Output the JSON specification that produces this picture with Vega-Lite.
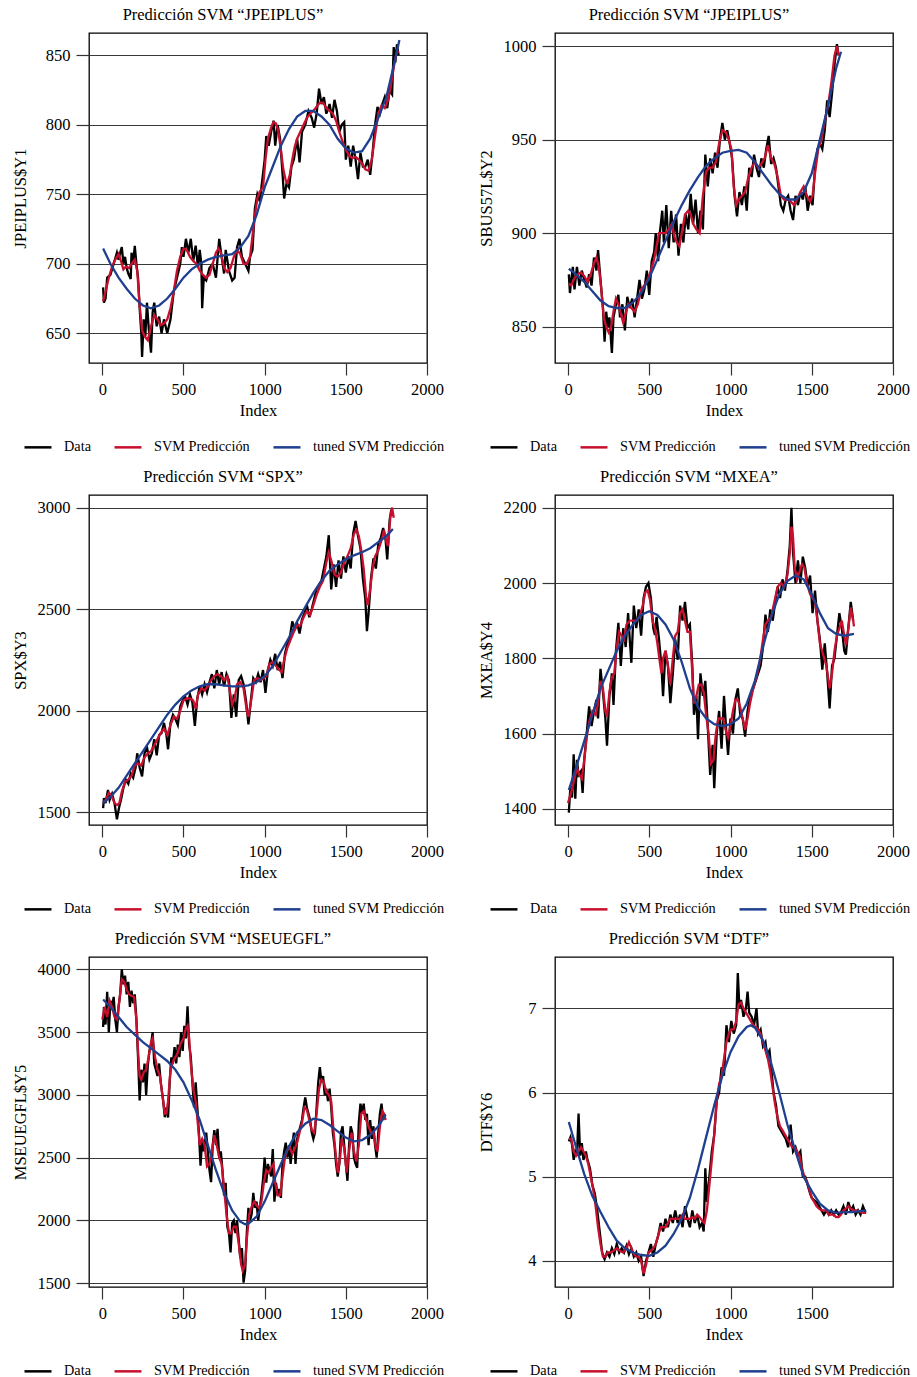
{
"$schema":"https://vega.github.io/schema/vega-lite/v6.json",
"background":"white",
"padding":{"left":11,"top":5,"right":5,"bottom":5},
"bounds":"flush",
"columns":2,
"spacing":{"row":132,"column":128},
"data":{"values":[
{"p":1,"s":"D","i":5,"v":683},{"p":1,"s":"D","i":10,"v":672},{"p":1,"s":"D","i":20,"v":675},{"p":1,"s":"D","i":30,"v":690},{"p":1,"s":"D","i":50,"v":692},{"p":1,"s":"D","i":70,"v":700},{"p":1,"s":"D","i":90,"v":708},{"p":1,"s":"D","i":100,"v":703},{"p":1,"s":"D","i":110,"v":708},{"p":1,"s":"D","i":120,"v":712},{"p":1,"s":"D","i":130,"v":700},{"p":1,"s":"D","i":140,"v":705},{"p":1,"s":"D","i":150,"v":697},{"p":1,"s":"D","i":160,"v":693},{"p":1,"s":"D","i":175,"v":689},{"p":1,"s":"D","i":180,"v":708},{"p":1,"s":"D","i":190,"v":700},{"p":1,"s":"D","i":200,"v":713},{"p":1,"s":"D","i":210,"v":700},{"p":1,"s":"D","i":220,"v":690},{"p":1,"s":"D","i":230,"v":668},{"p":1,"s":"D","i":240,"v":650},{"p":1,"s":"D","i":245,"v":633},{"p":1,"s":"D","i":255,"v":660},{"p":1,"s":"D","i":265,"v":648},{"p":1,"s":"D","i":275,"v":672},{"p":1,"s":"D","i":285,"v":655},{"p":1,"s":"D","i":300,"v":636},{"p":1,"s":"D","i":310,"v":665},{"p":1,"s":"D","i":320,"v":672},{"p":1,"s":"D","i":335,"v":655},{"p":1,"s":"D","i":350,"v":662},{"p":1,"s":"D","i":365,"v":650},{"p":1,"s":"D","i":380,"v":660},{"p":1,"s":"D","i":400,"v":650},{"p":1,"s":"D","i":420,"v":660},{"p":1,"s":"D","i":440,"v":680},{"p":1,"s":"D","i":460,"v":690},{"p":1,"s":"D","i":480,"v":700},{"p":1,"s":"D","i":490,"v":712},{"p":1,"s":"D","i":500,"v":705},{"p":1,"s":"D","i":515,"v":718},{"p":1,"s":"D","i":530,"v":708},{"p":1,"s":"D","i":545,"v":718},{"p":1,"s":"D","i":560,"v":702},{"p":1,"s":"D","i":575,"v":713},{"p":1,"s":"D","i":590,"v":697},{"p":1,"s":"D","i":600,"v":710},{"p":1,"s":"D","i":610,"v":700},{"p":1,"s":"D","i":615,"v":668},{"p":1,"s":"D","i":625,"v":690},{"p":1,"s":"D","i":640,"v":688},{"p":1,"s":"D","i":660,"v":697},{"p":1,"s":"D","i":680,"v":700},{"p":1,"s":"D","i":700,"v":690},{"p":1,"s":"D","i":720,"v":718},{"p":1,"s":"D","i":735,"v":705},{"p":1,"s":"D","i":750,"v":693},{"p":1,"s":"D","i":760,"v":710},{"p":1,"s":"D","i":780,"v":695},{"p":1,"s":"D","i":800,"v":688},{"p":1,"s":"D","i":815,"v":690},{"p":1,"s":"D","i":830,"v":712},{"p":1,"s":"D","i":845,"v":718},{"p":1,"s":"D","i":860,"v":705},{"p":1,"s":"D","i":880,"v":700},{"p":1,"s":"D","i":900,"v":695},{"p":1,"s":"D","i":910,"v":705},{"p":1,"s":"D","i":925,"v":710},{"p":1,"s":"D","i":940,"v":740},{"p":1,"s":"D","i":955,"v":750},{"p":1,"s":"D","i":970,"v":745},{"p":1,"s":"D","i":985,"v":760},{"p":1,"s":"D","i":1000,"v":775},{"p":1,"s":"D","i":1010,"v":792},{"p":1,"s":"D","i":1025,"v":785},{"p":1,"s":"D","i":1040,"v":795},{"p":1,"s":"D","i":1055,"v":803},{"p":1,"s":"D","i":1065,"v":785},{"p":1,"s":"D","i":1080,"v":800},{"p":1,"s":"D","i":1095,"v":790},{"p":1,"s":"D","i":1110,"v":765},{"p":1,"s":"D","i":1120,"v":747},{"p":1,"s":"D","i":1135,"v":758},{"p":1,"s":"D","i":1150,"v":755},{"p":1,"s":"D","i":1165,"v":770},{"p":1,"s":"D","i":1180,"v":775},{"p":1,"s":"D","i":1200,"v":790},{"p":1,"s":"D","i":1215,"v":773},{"p":1,"s":"D","i":1230,"v":795},{"p":1,"s":"D","i":1250,"v":800},{"p":1,"s":"D","i":1270,"v":810},{"p":1,"s":"D","i":1290,"v":805},{"p":1,"s":"D","i":1305,"v":798},{"p":1,"s":"D","i":1320,"v":808},{"p":1,"s":"D","i":1335,"v":826},{"p":1,"s":"D","i":1350,"v":815},{"p":1,"s":"D","i":1365,"v":820},{"p":1,"s":"D","i":1380,"v":808},{"p":1,"s":"D","i":1400,"v":815},{"p":1,"s":"D","i":1415,"v":805},{"p":1,"s":"D","i":1430,"v":818},{"p":1,"s":"D","i":1445,"v":810},{"p":1,"s":"D","i":1460,"v":795},{"p":1,"s":"D","i":1475,"v":800},{"p":1,"s":"D","i":1490,"v":802},{"p":1,"s":"D","i":1500,"v":775},{"p":1,"s":"D","i":1515,"v":785},{"p":1,"s":"D","i":1530,"v":770},{"p":1,"s":"D","i":1545,"v":785},{"p":1,"s":"D","i":1560,"v":775},{"p":1,"s":"D","i":1575,"v":761},{"p":1,"s":"D","i":1590,"v":780},{"p":1,"s":"D","i":1605,"v":770},{"p":1,"s":"D","i":1620,"v":770},{"p":1,"s":"D","i":1635,"v":775},{"p":1,"s":"D","i":1650,"v":764},{"p":1,"s":"D","i":1665,"v":780},{"p":1,"s":"D","i":1680,"v":800},{"p":1,"s":"D","i":1695,"v":813},{"p":1,"s":"D","i":1710,"v":808},{"p":1,"s":"D","i":1725,"v":815},{"p":1,"s":"D","i":1740,"v":820},{"p":1,"s":"D","i":1755,"v":812},{"p":1,"s":"D","i":1770,"v":825},{"p":1,"s":"D","i":1785,"v":822},{"p":1,"s":"D","i":1795,"v":856},{"p":1,"s":"D","i":1805,"v":845},{"p":1,"s":"D","i":1815,"v":858},{"p":1,"s":"D","i":1825,"v":850},
{"p":1,"s":"S","i":5,"v":673},{"p":1,"s":"S","i":20,"v":680},{"p":1,"s":"S","i":40,"v":690},{"p":1,"s":"S","i":60,"v":698},{"p":1,"s":"S","i":80,"v":703},{"p":1,"s":"S","i":100,"v":707},{"p":1,"s":"S","i":115,"v":702},{"p":1,"s":"S","i":130,"v":696},{"p":1,"s":"S","i":145,"v":698},{"p":1,"s":"S","i":165,"v":697},{"p":1,"s":"S","i":180,"v":700},{"p":1,"s":"S","i":200,"v":703},{"p":1,"s":"S","i":215,"v":695},{"p":1,"s":"S","i":230,"v":670},{"p":1,"s":"S","i":245,"v":652},{"p":1,"s":"S","i":260,"v":648},{"p":1,"s":"S","i":280,"v":645},{"p":1,"s":"S","i":300,"v":655},{"p":1,"s":"S","i":320,"v":663},{"p":1,"s":"S","i":340,"v":660},{"p":1,"s":"S","i":360,"v":656},{"p":1,"s":"S","i":380,"v":657},{"p":1,"s":"S","i":400,"v":660},{"p":1,"s":"S","i":420,"v":668},{"p":1,"s":"S","i":440,"v":680},{"p":1,"s":"S","i":460,"v":695},{"p":1,"s":"S","i":480,"v":705},{"p":1,"s":"S","i":500,"v":711},{"p":1,"s":"S","i":520,"v":710},{"p":1,"s":"S","i":540,"v":705},{"p":1,"s":"S","i":560,"v":702},{"p":1,"s":"S","i":580,"v":700},{"p":1,"s":"S","i":600,"v":695},{"p":1,"s":"S","i":620,"v":692},{"p":1,"s":"S","i":640,"v":690},{"p":1,"s":"S","i":660,"v":692},{"p":1,"s":"S","i":680,"v":700},{"p":1,"s":"S","i":700,"v":708},{"p":1,"s":"S","i":715,"v":711},{"p":1,"s":"S","i":730,"v":708},{"p":1,"s":"S","i":750,"v":697},{"p":1,"s":"S","i":770,"v":694},{"p":1,"s":"S","i":790,"v":697},{"p":1,"s":"S","i":810,"v":705},{"p":1,"s":"S","i":830,"v":710},{"p":1,"s":"S","i":850,"v":707},{"p":1,"s":"S","i":870,"v":700},{"p":1,"s":"S","i":890,"v":700},{"p":1,"s":"S","i":910,"v":705},{"p":1,"s":"S","i":925,"v":720},{"p":1,"s":"S","i":940,"v":735},{"p":1,"s":"S","i":955,"v":747},{"p":1,"s":"S","i":970,"v":752},{"p":1,"s":"S","i":990,"v":755},{"p":1,"s":"S","i":1005,"v":775},{"p":1,"s":"S","i":1020,"v":790},{"p":1,"s":"S","i":1040,"v":798},{"p":1,"s":"S","i":1055,"v":802},{"p":1,"s":"S","i":1070,"v":801},{"p":1,"s":"S","i":1085,"v":795},{"p":1,"s":"S","i":1100,"v":782},{"p":1,"s":"S","i":1115,"v":768},{"p":1,"s":"S","i":1130,"v":760},{"p":1,"s":"S","i":1140,"v":758},{"p":1,"s":"S","i":1155,"v":764},{"p":1,"s":"S","i":1170,"v":775},{"p":1,"s":"S","i":1185,"v":784},{"p":1,"s":"S","i":1200,"v":790},{"p":1,"s":"S","i":1220,"v":795},{"p":1,"s":"S","i":1240,"v":800},{"p":1,"s":"S","i":1260,"v":805},{"p":1,"s":"S","i":1280,"v":808},{"p":1,"s":"S","i":1300,"v":810},{"p":1,"s":"S","i":1320,"v":813},{"p":1,"s":"S","i":1340,"v":816},{"p":1,"s":"S","i":1360,"v":816},{"p":1,"s":"S","i":1380,"v":812},{"p":1,"s":"S","i":1400,"v":810},{"p":1,"s":"S","i":1420,"v":808},{"p":1,"s":"S","i":1440,"v":803},{"p":1,"s":"S","i":1460,"v":795},{"p":1,"s":"S","i":1480,"v":788},{"p":1,"s":"S","i":1500,"v":782},{"p":1,"s":"S","i":1520,"v":778},{"p":1,"s":"S","i":1540,"v":776},{"p":1,"s":"S","i":1560,"v":777},{"p":1,"s":"S","i":1580,"v":775},{"p":1,"s":"S","i":1600,"v":772},{"p":1,"s":"S","i":1620,"v":768},{"p":1,"s":"S","i":1640,"v":767},{"p":1,"s":"S","i":1660,"v":775},{"p":1,"s":"S","i":1680,"v":792},{"p":1,"s":"S","i":1700,"v":808},{"p":1,"s":"S","i":1720,"v":814},{"p":1,"s":"S","i":1740,"v":812},{"p":1,"s":"S","i":1760,"v":818},{"p":1,"s":"S","i":1780,"v":830},{"p":1,"s":"S","i":1800,"v":845},{"p":1,"s":"S","i":1815,"v":853},{"p":1,"s":"S","i":1825,"v":852},
{"p":1,"s":"T","i":5,"v":711},{"p":1,"s":"T","i":50,"v":700},{"p":1,"s":"T","i":100,"v":690},{"p":1,"s":"T","i":150,"v":682},{"p":1,"s":"T","i":200,"v":675},{"p":1,"s":"T","i":250,"v":670},{"p":1,"s":"T","i":300,"v":668},{"p":1,"s":"T","i":350,"v":670},{"p":1,"s":"T","i":400,"v":675},{"p":1,"s":"T","i":450,"v":682},{"p":1,"s":"T","i":500,"v":690},{"p":1,"s":"T","i":550,"v":696},{"p":1,"s":"T","i":600,"v":700},{"p":1,"s":"T","i":650,"v":703},{"p":1,"s":"T","i":700,"v":705},{"p":1,"s":"T","i":750,"v":706},{"p":1,"s":"T","i":800,"v":707},{"p":1,"s":"T","i":850,"v":712},{"p":1,"s":"T","i":900,"v":720},{"p":1,"s":"T","i":950,"v":735},{"p":1,"s":"T","i":1000,"v":755},{"p":1,"s":"T","i":1050,"v":770},{"p":1,"s":"T","i":1100,"v":785},{"p":1,"s":"T","i":1150,"v":797},{"p":1,"s":"T","i":1200,"v":806},{"p":1,"s":"T","i":1250,"v":810},{"p":1,"s":"T","i":1300,"v":810},{"p":1,"s":"T","i":1350,"v":806},{"p":1,"s":"T","i":1400,"v":800},{"p":1,"s":"T","i":1450,"v":790},{"p":1,"s":"T","i":1500,"v":783},{"p":1,"s":"T","i":1550,"v":780},{"p":1,"s":"T","i":1600,"v":781},{"p":1,"s":"T","i":1650,"v":790},{"p":1,"s":"T","i":1700,"v":805},{"p":1,"s":"T","i":1750,"v":820},{"p":1,"s":"T","i":1800,"v":845},{"p":1,"s":"T","i":1830,"v":861},
{"p":2,"s":"D","i":5,"v":878},{"p":2,"s":"D","i":12,"v":868},{"p":2,"s":"D","i":20,"v":875},{"p":2,"s":"D","i":30,"v":882},{"p":2,"s":"D","i":40,"v":870},{"p":2,"s":"D","i":55,"v":882},{"p":2,"s":"D","i":70,"v":872},{"p":2,"s":"D","i":85,"v":880},{"p":2,"s":"D","i":100,"v":875},{"p":2,"s":"D","i":115,"v":871},{"p":2,"s":"D","i":130,"v":878},{"p":2,"s":"D","i":145,"v":872},{"p":2,"s":"D","i":160,"v":887},{"p":2,"s":"D","i":175,"v":880},{"p":2,"s":"D","i":185,"v":891},{"p":2,"s":"D","i":200,"v":875},{"p":2,"s":"D","i":215,"v":860},{"p":2,"s":"D","i":225,"v":842},{"p":2,"s":"D","i":235,"v":858},{"p":2,"s":"D","i":245,"v":850},{"p":2,"s":"D","i":255,"v":855},{"p":2,"s":"D","i":270,"v":836},{"p":2,"s":"D","i":280,"v":855},{"p":2,"s":"D","i":295,"v":862},{"p":2,"s":"D","i":310,"v":867},{"p":2,"s":"D","i":320,"v":855},{"p":2,"s":"D","i":335,"v":862},{"p":2,"s":"D","i":350,"v":848},{"p":2,"s":"D","i":365,"v":866},{"p":2,"s":"D","i":380,"v":860},{"p":2,"s":"D","i":395,"v":865},{"p":2,"s":"D","i":410,"v":855},{"p":2,"s":"D","i":425,"v":865},{"p":2,"s":"D","i":440,"v":875},{"p":2,"s":"D","i":455,"v":865},{"p":2,"s":"D","i":470,"v":870},{"p":2,"s":"D","i":485,"v":880},{"p":2,"s":"D","i":500,"v":867},{"p":2,"s":"D","i":515,"v":885},{"p":2,"s":"D","i":530,"v":890},{"p":2,"s":"D","i":540,"v":900},{"p":2,"s":"D","i":555,"v":885},{"p":2,"s":"D","i":565,"v":900},{"p":2,"s":"D","i":580,"v":912},{"p":2,"s":"D","i":590,"v":895},{"p":2,"s":"D","i":605,"v":915},{"p":2,"s":"D","i":620,"v":892},{"p":2,"s":"D","i":635,"v":912},{"p":2,"s":"D","i":650,"v":895},{"p":2,"s":"D","i":665,"v":910},{"p":2,"s":"D","i":680,"v":888},{"p":2,"s":"D","i":695,"v":905},{"p":2,"s":"D","i":710,"v":895},{"p":2,"s":"D","i":725,"v":910},{"p":2,"s":"D","i":740,"v":902},{"p":2,"s":"D","i":755,"v":921},{"p":2,"s":"D","i":770,"v":905},{"p":2,"s":"D","i":785,"v":918},{"p":2,"s":"D","i":800,"v":900},{"p":2,"s":"D","i":815,"v":912},{"p":2,"s":"D","i":830,"v":902},{"p":2,"s":"D","i":845,"v":942},{"p":2,"s":"D","i":860,"v":925},{"p":2,"s":"D","i":875,"v":940},{"p":2,"s":"D","i":890,"v":932},{"p":2,"s":"D","i":905,"v":943},{"p":2,"s":"D","i":920,"v":935},{"p":2,"s":"D","i":935,"v":950},{"p":2,"s":"D","i":950,"v":959},{"p":2,"s":"D","i":965,"v":950},{"p":2,"s":"D","i":980,"v":955},{"p":2,"s":"D","i":995,"v":948},{"p":2,"s":"D","i":1010,"v":940},{"p":2,"s":"D","i":1025,"v":920},{"p":2,"s":"D","i":1040,"v":909},{"p":2,"s":"D","i":1055,"v":922},{"p":2,"s":"D","i":1070,"v":915},{"p":2,"s":"D","i":1085,"v":925},{"p":2,"s":"D","i":1100,"v":912},{"p":2,"s":"D","i":1115,"v":935},{"p":2,"s":"D","i":1130,"v":930},{"p":2,"s":"D","i":1145,"v":942},{"p":2,"s":"D","i":1160,"v":935},{"p":2,"s":"D","i":1175,"v":930},{"p":2,"s":"D","i":1190,"v":940},{"p":2,"s":"D","i":1205,"v":935},{"p":2,"s":"D","i":1220,"v":945},{"p":2,"s":"D","i":1235,"v":952},{"p":2,"s":"D","i":1250,"v":937},{"p":2,"s":"D","i":1265,"v":940},{"p":2,"s":"D","i":1280,"v":935},{"p":2,"s":"D","i":1295,"v":925},{"p":2,"s":"D","i":1310,"v":915},{"p":2,"s":"D","i":1325,"v":912},{"p":2,"s":"D","i":1340,"v":918},{"p":2,"s":"D","i":1355,"v":920},{"p":2,"s":"D","i":1370,"v":912},{"p":2,"s":"D","i":1385,"v":907},{"p":2,"s":"D","i":1400,"v":920},{"p":2,"s":"D","i":1415,"v":915},{"p":2,"s":"D","i":1430,"v":922},{"p":2,"s":"D","i":1445,"v":918},{"p":2,"s":"D","i":1460,"v":925},{"p":2,"s":"D","i":1475,"v":912},{"p":2,"s":"D","i":1490,"v":920},{"p":2,"s":"D","i":1505,"v":915},{"p":2,"s":"D","i":1520,"v":935},{"p":2,"s":"D","i":1535,"v":945},{"p":2,"s":"D","i":1550,"v":948},{"p":2,"s":"D","i":1565,"v":945},{"p":2,"s":"D","i":1580,"v":955},{"p":2,"s":"D","i":1595,"v":971},{"p":2,"s":"D","i":1610,"v":962},{"p":2,"s":"D","i":1625,"v":975},{"p":2,"s":"D","i":1640,"v":990},{"p":2,"s":"D","i":1655,"v":1001},{"p":2,"s":"D","i":1665,"v":995},
{"p":2,"s":"S","i":5,"v":873},{"p":2,"s":"S","i":20,"v":872},{"p":2,"s":"S","i":40,"v":876},{"p":2,"s":"S","i":60,"v":878},{"p":2,"s":"S","i":80,"v":879},{"p":2,"s":"S","i":100,"v":877},{"p":2,"s":"S","i":120,"v":874},{"p":2,"s":"S","i":140,"v":878},{"p":2,"s":"S","i":160,"v":884},{"p":2,"s":"S","i":175,"v":887},{"p":2,"s":"S","i":190,"v":882},{"p":2,"s":"S","i":205,"v":870},{"p":2,"s":"S","i":220,"v":855},{"p":2,"s":"S","i":235,"v":850},{"p":2,"s":"S","i":250,"v":847},{"p":2,"s":"S","i":265,"v":850},{"p":2,"s":"S","i":280,"v":858},{"p":2,"s":"S","i":295,"v":865},{"p":2,"s":"S","i":310,"v":862},{"p":2,"s":"S","i":325,"v":857},{"p":2,"s":"S","i":340,"v":852},{"p":2,"s":"S","i":355,"v":857},{"p":2,"s":"S","i":370,"v":862},{"p":2,"s":"S","i":390,"v":860},{"p":2,"s":"S","i":410,"v":858},{"p":2,"s":"S","i":430,"v":862},{"p":2,"s":"S","i":450,"v":870},{"p":2,"s":"S","i":470,"v":872},{"p":2,"s":"S","i":490,"v":875},{"p":2,"s":"S","i":510,"v":880},{"p":2,"s":"S","i":530,"v":886},{"p":2,"s":"S","i":545,"v":893},{"p":2,"s":"S","i":560,"v":900},{"p":2,"s":"S","i":580,"v":900},{"p":2,"s":"S","i":600,"v":900},{"p":2,"s":"S","i":620,"v":902},{"p":2,"s":"S","i":640,"v":905},{"p":2,"s":"S","i":655,"v":898},{"p":2,"s":"S","i":670,"v":895},{"p":2,"s":"S","i":685,"v":893},{"p":2,"s":"S","i":700,"v":900},{"p":2,"s":"S","i":720,"v":910},{"p":2,"s":"S","i":740,"v":912},{"p":2,"s":"S","i":755,"v":910},{"p":2,"s":"S","i":770,"v":905},{"p":2,"s":"S","i":790,"v":902},{"p":2,"s":"S","i":810,"v":900},{"p":2,"s":"S","i":830,"v":920},{"p":2,"s":"S","i":850,"v":933},{"p":2,"s":"S","i":870,"v":935},{"p":2,"s":"S","i":890,"v":935},{"p":2,"s":"S","i":910,"v":938},{"p":2,"s":"S","i":930,"v":948},{"p":2,"s":"S","i":950,"v":955},{"p":2,"s":"S","i":970,"v":954},{"p":2,"s":"S","i":990,"v":950},{"p":2,"s":"S","i":1005,"v":945},{"p":2,"s":"S","i":1020,"v":925},{"p":2,"s":"S","i":1035,"v":915},{"p":2,"s":"S","i":1050,"v":918},{"p":2,"s":"S","i":1070,"v":920},{"p":2,"s":"S","i":1090,"v":922},{"p":2,"s":"S","i":1110,"v":930},{"p":2,"s":"S","i":1130,"v":935},{"p":2,"s":"S","i":1150,"v":938},{"p":2,"s":"S","i":1170,"v":935},{"p":2,"s":"S","i":1190,"v":937},{"p":2,"s":"S","i":1210,"v":940},{"p":2,"s":"S","i":1230,"v":947},{"p":2,"s":"S","i":1250,"v":940},{"p":2,"s":"S","i":1270,"v":937},{"p":2,"s":"S","i":1290,"v":930},{"p":2,"s":"S","i":1310,"v":920},{"p":2,"s":"S","i":1330,"v":918},{"p":2,"s":"S","i":1350,"v":918},{"p":2,"s":"S","i":1370,"v":917},{"p":2,"s":"S","i":1390,"v":915},{"p":2,"s":"S","i":1410,"v":918},{"p":2,"s":"S","i":1430,"v":922},{"p":2,"s":"S","i":1450,"v":925},{"p":2,"s":"S","i":1470,"v":920},{"p":2,"s":"S","i":1490,"v":917},{"p":2,"s":"S","i":1505,"v":920},{"p":2,"s":"S","i":1520,"v":932},{"p":2,"s":"S","i":1540,"v":945},{"p":2,"s":"S","i":1560,"v":950},{"p":2,"s":"S","i":1580,"v":960},{"p":2,"s":"S","i":1600,"v":968},{"p":2,"s":"S","i":1620,"v":980},{"p":2,"s":"S","i":1640,"v":995},{"p":2,"s":"S","i":1655,"v":1000},{"p":2,"s":"S","i":1665,"v":995},
{"p":2,"s":"T","i":5,"v":881},{"p":2,"s":"T","i":50,"v":878},{"p":2,"s":"T","i":100,"v":874},{"p":2,"s":"T","i":150,"v":869},{"p":2,"s":"T","i":200,"v":864},{"p":2,"s":"T","i":250,"v":861},{"p":2,"s":"T","i":300,"v":860},{"p":2,"s":"T","i":350,"v":860},{"p":2,"s":"T","i":400,"v":863},{"p":2,"s":"T","i":450,"v":868},{"p":2,"s":"T","i":500,"v":876},{"p":2,"s":"T","i":550,"v":886},{"p":2,"s":"T","i":600,"v":896},{"p":2,"s":"T","i":650,"v":906},{"p":2,"s":"T","i":700,"v":915},{"p":2,"s":"T","i":750,"v":923},{"p":2,"s":"T","i":800,"v":930},{"p":2,"s":"T","i":850,"v":936},{"p":2,"s":"T","i":900,"v":940},{"p":2,"s":"T","i":950,"v":943},{"p":2,"s":"T","i":1000,"v":944},{"p":2,"s":"T","i":1050,"v":944.5},{"p":2,"s":"T","i":1100,"v":943},{"p":2,"s":"T","i":1150,"v":938},{"p":2,"s":"T","i":1200,"v":932},{"p":2,"s":"T","i":1250,"v":926},{"p":2,"s":"T","i":1300,"v":921},{"p":2,"s":"T","i":1350,"v":918},{"p":2,"s":"T","i":1400,"v":918},{"p":2,"s":"T","i":1450,"v":922},{"p":2,"s":"T","i":1500,"v":932},{"p":2,"s":"T","i":1550,"v":950},{"p":2,"s":"T","i":1600,"v":968},{"p":2,"s":"T","i":1650,"v":988},{"p":2,"s":"T","i":1680,"v":997},
{"p":3,"s":"D","i":5,"v":1520},{"p":3,"s":"D","i":10,"v":1570},{"p":3,"s":"D","i":20,"v":1545},{"p":3,"s":"D","i":35,"v":1610},{"p":3,"s":"D","i":45,"v":1560},{"p":3,"s":"D","i":60,"v":1590},{"p":3,"s":"D","i":75,"v":1545},{"p":3,"s":"D","i":90,"v":1465},{"p":3,"s":"D","i":105,"v":1530},{"p":3,"s":"D","i":115,"v":1560},{"p":3,"s":"D","i":130,"v":1620},{"p":3,"s":"D","i":145,"v":1660},{"p":3,"s":"D","i":160,"v":1640},{"p":3,"s":"D","i":175,"v":1690},{"p":3,"s":"D","i":190,"v":1670},{"p":3,"s":"D","i":205,"v":1720},{"p":3,"s":"D","i":215,"v":1790},{"p":3,"s":"D","i":230,"v":1720},{"p":3,"s":"D","i":245,"v":1676},{"p":3,"s":"D","i":260,"v":1790},{"p":3,"s":"D","i":275,"v":1820},{"p":3,"s":"D","i":290,"v":1760},{"p":3,"s":"D","i":305,"v":1790},{"p":3,"s":"D","i":320,"v":1860},{"p":3,"s":"D","i":335,"v":1780},{"p":3,"s":"D","i":350,"v":1880},{"p":3,"s":"D","i":365,"v":1890},{"p":3,"s":"D","i":380,"v":1940},{"p":3,"s":"D","i":395,"v":1880},{"p":3,"s":"D","i":405,"v":1810},{"p":3,"s":"D","i":420,"v":1940},{"p":3,"s":"D","i":435,"v":1980},{"p":3,"s":"D","i":450,"v":1960},{"p":3,"s":"D","i":465,"v":1930},{"p":3,"s":"D","i":480,"v":2020},{"p":3,"s":"D","i":495,"v":2050},{"p":3,"s":"D","i":510,"v":2070},{"p":3,"s":"D","i":525,"v":2030},{"p":3,"s":"D","i":540,"v":2080},{"p":3,"s":"D","i":555,"v":2040},{"p":3,"s":"D","i":570,"v":1925},{"p":3,"s":"D","i":585,"v":2060},{"p":3,"s":"D","i":600,"v":2120},{"p":3,"s":"D","i":615,"v":2080},{"p":3,"s":"D","i":630,"v":2130},{"p":3,"s":"D","i":645,"v":2090},{"p":3,"s":"D","i":660,"v":2140},{"p":3,"s":"D","i":675,"v":2180},{"p":3,"s":"D","i":690,"v":2110},{"p":3,"s":"D","i":705,"v":2200},{"p":3,"s":"D","i":720,"v":2130},{"p":3,"s":"D","i":735,"v":2190},{"p":3,"s":"D","i":750,"v":2120},{"p":3,"s":"D","i":765,"v":2180},{"p":3,"s":"D","i":780,"v":2150},{"p":3,"s":"D","i":795,"v":1964},{"p":3,"s":"D","i":810,"v":2080},{"p":3,"s":"D","i":825,"v":1970},{"p":3,"s":"D","i":840,"v":2150},{"p":3,"s":"D","i":855,"v":2170},{"p":3,"s":"D","i":870,"v":2130},{"p":3,"s":"D","i":885,"v":2050},{"p":3,"s":"D","i":900,"v":1932},{"p":3,"s":"D","i":915,"v":2050},{"p":3,"s":"D","i":930,"v":2160},{"p":3,"s":"D","i":945,"v":2140},{"p":3,"s":"D","i":960,"v":2180},{"p":3,"s":"D","i":975,"v":2140},{"p":3,"s":"D","i":990,"v":2200},{"p":3,"s":"D","i":1005,"v":2087},{"p":3,"s":"D","i":1020,"v":2200},{"p":3,"s":"D","i":1035,"v":2250},{"p":3,"s":"D","i":1050,"v":2220},{"p":3,"s":"D","i":1065,"v":2280},{"p":3,"s":"D","i":1080,"v":2200},{"p":3,"s":"D","i":1095,"v":2240},{"p":3,"s":"D","i":1110,"v":2160},{"p":3,"s":"D","i":1125,"v":2280},{"p":3,"s":"D","i":1140,"v":2330},{"p":3,"s":"D","i":1155,"v":2360},{"p":3,"s":"D","i":1170,"v":2440},{"p":3,"s":"D","i":1185,"v":2400},{"p":3,"s":"D","i":1200,"v":2430},{"p":3,"s":"D","i":1215,"v":2380},{"p":3,"s":"D","i":1230,"v":2450},{"p":3,"s":"D","i":1245,"v":2480},{"p":3,"s":"D","i":1260,"v":2520},{"p":3,"s":"D","i":1275,"v":2460},{"p":3,"s":"D","i":1290,"v":2500},{"p":3,"s":"D","i":1305,"v":2550},{"p":3,"s":"D","i":1320,"v":2600},{"p":3,"s":"D","i":1335,"v":2620},{"p":3,"s":"D","i":1350,"v":2640},{"p":3,"s":"D","i":1365,"v":2700},{"p":3,"s":"D","i":1380,"v":2760},{"p":3,"s":"D","i":1395,"v":2864},{"p":3,"s":"D","i":1410,"v":2597},{"p":3,"s":"D","i":1425,"v":2720},{"p":3,"s":"D","i":1440,"v":2610},{"p":3,"s":"D","i":1455,"v":2740},{"p":3,"s":"D","i":1470,"v":2650},{"p":3,"s":"D","i":1485,"v":2760},{"p":3,"s":"D","i":1500,"v":2680},{"p":3,"s":"D","i":1515,"v":2760},{"p":3,"s":"D","i":1530,"v":2700},{"p":3,"s":"D","i":1545,"v":2870},{"p":3,"s":"D","i":1560,"v":2934},{"p":3,"s":"D","i":1575,"v":2860},{"p":3,"s":"D","i":1590,"v":2800},{"p":3,"s":"D","i":1605,"v":2650},{"p":3,"s":"D","i":1620,"v":2550},{"p":3,"s":"D","i":1630,"v":2391},{"p":3,"s":"D","i":1640,"v":2480},{"p":3,"s":"D","i":1655,"v":2650},{"p":3,"s":"D","i":1670,"v":2750},{"p":3,"s":"D","i":1685,"v":2700},{"p":3,"s":"D","i":1700,"v":2820},{"p":3,"s":"D","i":1715,"v":2850},{"p":3,"s":"D","i":1730,"v":2900},{"p":3,"s":"D","i":1745,"v":2840},{"p":3,"s":"D","i":1755,"v":2745},{"p":3,"s":"D","i":1770,"v":2940},{"p":3,"s":"D","i":1780,"v":2990},{"p":3,"s":"D","i":1790,"v":2960},
{"p":3,"s":"S","i":5,"v":1550},{"p":3,"s":"S","i":20,"v":1560},{"p":3,"s":"S","i":40,"v":1595},{"p":3,"s":"S","i":55,"v":1585},{"p":3,"s":"S","i":75,"v":1545},{"p":3,"s":"S","i":90,"v":1535},{"p":3,"s":"S","i":105,"v":1545},{"p":3,"s":"S","i":120,"v":1600},{"p":3,"s":"S","i":140,"v":1650},{"p":3,"s":"S","i":160,"v":1660},{"p":3,"s":"S","i":180,"v":1680},{"p":3,"s":"S","i":200,"v":1730},{"p":3,"s":"S","i":220,"v":1740},{"p":3,"s":"S","i":240,"v":1730},{"p":3,"s":"S","i":260,"v":1770},{"p":3,"s":"S","i":280,"v":1790},{"p":3,"s":"S","i":300,"v":1800},{"p":3,"s":"S","i":320,"v":1830},{"p":3,"s":"S","i":340,"v":1860},{"p":3,"s":"S","i":360,"v":1890},{"p":3,"s":"S","i":380,"v":1910},{"p":3,"s":"S","i":400,"v":1880},{"p":3,"s":"S","i":420,"v":1930},{"p":3,"s":"S","i":440,"v":1970},{"p":3,"s":"S","i":460,"v":1960},{"p":3,"s":"S","i":480,"v":2000},{"p":3,"s":"S","i":500,"v":2050},{"p":3,"s":"S","i":520,"v":2060},{"p":3,"s":"S","i":540,"v":2060},{"p":3,"s":"S","i":560,"v":2050},{"p":3,"s":"S","i":575,"v":2010},{"p":3,"s":"S","i":590,"v":2080},{"p":3,"s":"S","i":610,"v":2110},{"p":3,"s":"S","i":630,"v":2100},{"p":3,"s":"S","i":650,"v":2120},{"p":3,"s":"S","i":670,"v":2150},{"p":3,"s":"S","i":690,"v":2170},{"p":3,"s":"S","i":710,"v":2180},{"p":3,"s":"S","i":730,"v":2170},{"p":3,"s":"S","i":750,"v":2150},{"p":3,"s":"S","i":770,"v":2170},{"p":3,"s":"S","i":785,"v":2100},{"p":3,"s":"S","i":800,"v":2030},{"p":3,"s":"S","i":815,"v":2060},{"p":3,"s":"S","i":830,"v":2130},{"p":3,"s":"S","i":850,"v":2140},{"p":3,"s":"S","i":870,"v":2110},{"p":3,"s":"S","i":890,"v":2000},{"p":3,"s":"S","i":900,"v":1970},{"p":3,"s":"S","i":915,"v":2040},{"p":3,"s":"S","i":935,"v":2150},{"p":3,"s":"S","i":955,"v":2160},{"p":3,"s":"S","i":975,"v":2150},{"p":3,"s":"S","i":995,"v":2160},{"p":3,"s":"S","i":1010,"v":2170},{"p":3,"s":"S","i":1030,"v":2230},{"p":3,"s":"S","i":1050,"v":2240},{"p":3,"s":"S","i":1070,"v":2220},{"p":3,"s":"S","i":1090,"v":2200},{"p":3,"s":"S","i":1105,"v":2190},{"p":3,"s":"S","i":1120,"v":2250},{"p":3,"s":"S","i":1140,"v":2310},{"p":3,"s":"S","i":1160,"v":2350},{"p":3,"s":"S","i":1180,"v":2390},{"p":3,"s":"S","i":1200,"v":2420},{"p":3,"s":"S","i":1220,"v":2420},{"p":3,"s":"S","i":1240,"v":2460},{"p":3,"s":"S","i":1260,"v":2490},{"p":3,"s":"S","i":1280,"v":2470},{"p":3,"s":"S","i":1300,"v":2520},{"p":3,"s":"S","i":1320,"v":2570},{"p":3,"s":"S","i":1340,"v":2610},{"p":3,"s":"S","i":1360,"v":2640},{"p":3,"s":"S","i":1380,"v":2730},{"p":3,"s":"S","i":1395,"v":2780},{"p":3,"s":"S","i":1410,"v":2740},{"p":3,"s":"S","i":1430,"v":2670},{"p":3,"s":"S","i":1450,"v":2660},{"p":3,"s":"S","i":1470,"v":2680},{"p":3,"s":"S","i":1490,"v":2730},{"p":3,"s":"S","i":1510,"v":2760},{"p":3,"s":"S","i":1530,"v":2800},{"p":3,"s":"S","i":1550,"v":2870},{"p":3,"s":"S","i":1565,"v":2890},{"p":3,"s":"S","i":1580,"v":2860},{"p":3,"s":"S","i":1595,"v":2790},{"p":3,"s":"S","i":1610,"v":2700},{"p":3,"s":"S","i":1625,"v":2560},{"p":3,"s":"S","i":1635,"v":2520},{"p":3,"s":"S","i":1650,"v":2600},{"p":3,"s":"S","i":1665,"v":2700},{"p":3,"s":"S","i":1680,"v":2760},{"p":3,"s":"S","i":1700,"v":2790},{"p":3,"s":"S","i":1720,"v":2840},{"p":3,"s":"S","i":1735,"v":2890},{"p":3,"s":"S","i":1750,"v":2830},{"p":3,"s":"S","i":1760,"v":2810},{"p":3,"s":"S","i":1775,"v":2960},{"p":3,"s":"S","i":1785,"v":3000},{"p":3,"s":"S","i":1795,"v":2950},
{"p":3,"s":"T","i":5,"v":1545},{"p":3,"s":"T","i":50,"v":1575},{"p":3,"s":"T","i":100,"v":1620},{"p":3,"s":"T","i":150,"v":1680},{"p":3,"s":"T","i":200,"v":1740},{"p":3,"s":"T","i":250,"v":1800},{"p":3,"s":"T","i":300,"v":1860},{"p":3,"s":"T","i":350,"v":1920},{"p":3,"s":"T","i":400,"v":1980},{"p":3,"s":"T","i":450,"v":2030},{"p":3,"s":"T","i":500,"v":2070},{"p":3,"s":"T","i":550,"v":2100},{"p":3,"s":"T","i":600,"v":2120},{"p":3,"s":"T","i":650,"v":2130},{"p":3,"s":"T","i":700,"v":2130},{"p":3,"s":"T","i":750,"v":2125},{"p":3,"s":"T","i":800,"v":2120},{"p":3,"s":"T","i":850,"v":2120},{"p":3,"s":"T","i":900,"v":2125},{"p":3,"s":"T","i":950,"v":2140},{"p":3,"s":"T","i":1000,"v":2170},{"p":3,"s":"T","i":1050,"v":2220},{"p":3,"s":"T","i":1100,"v":2290},{"p":3,"s":"T","i":1150,"v":2360},{"p":3,"s":"T","i":1200,"v":2440},{"p":3,"s":"T","i":1250,"v":2510},{"p":3,"s":"T","i":1300,"v":2580},{"p":3,"s":"T","i":1350,"v":2640},{"p":3,"s":"T","i":1400,"v":2690},{"p":3,"s":"T","i":1450,"v":2720},{"p":3,"s":"T","i":1500,"v":2745},{"p":3,"s":"T","i":1550,"v":2765},{"p":3,"s":"T","i":1600,"v":2780},{"p":3,"s":"T","i":1650,"v":2800},{"p":3,"s":"T","i":1700,"v":2830},{"p":3,"s":"T","i":1750,"v":2860},{"p":3,"s":"T","i":1790,"v":2895},
{"p":4,"s":"D","i":5,"v":1390},{"p":4,"s":"D","i":15,"v":1460},{"p":4,"s":"D","i":25,"v":1430},{"p":4,"s":"D","i":35,"v":1545},{"p":4,"s":"D","i":45,"v":1427},{"p":4,"s":"D","i":55,"v":1530},{"p":4,"s":"D","i":65,"v":1490},{"p":4,"s":"D","i":80,"v":1500},{"p":4,"s":"D","i":90,"v":1442},{"p":4,"s":"D","i":100,"v":1530},{"p":4,"s":"D","i":115,"v":1600},{"p":4,"s":"D","i":130,"v":1672},{"p":4,"s":"D","i":145,"v":1620},{"p":4,"s":"D","i":160,"v":1660},{"p":4,"s":"D","i":175,"v":1690},{"p":4,"s":"D","i":185,"v":1640},{"p":4,"s":"D","i":200,"v":1772},{"p":4,"s":"D","i":215,"v":1710},{"p":4,"s":"D","i":230,"v":1640},{"p":4,"s":"D","i":240,"v":1568},{"p":4,"s":"D","i":255,"v":1700},{"p":4,"s":"D","i":270,"v":1760},{"p":4,"s":"D","i":280,"v":1676},{"p":4,"s":"D","i":295,"v":1820},{"p":4,"s":"D","i":310,"v":1894},{"p":4,"s":"D","i":325,"v":1780},{"p":4,"s":"D","i":340,"v":1880},{"p":4,"s":"D","i":355,"v":1830},{"p":4,"s":"D","i":370,"v":1920},{"p":4,"s":"D","i":380,"v":1850},{"p":4,"s":"D","i":390,"v":1788},{"p":4,"s":"D","i":405,"v":1940},{"p":4,"s":"D","i":420,"v":1880},{"p":4,"s":"D","i":435,"v":1930},{"p":4,"s":"D","i":450,"v":1860},{"p":4,"s":"D","i":465,"v":1960},{"p":4,"s":"D","i":480,"v":1990},{"p":4,"s":"D","i":495,"v":2000},{"p":4,"s":"D","i":510,"v":1960},{"p":4,"s":"D","i":525,"v":1880},{"p":4,"s":"D","i":535,"v":1862},{"p":4,"s":"D","i":545,"v":1910},{"p":4,"s":"D","i":560,"v":1850},{"p":4,"s":"D","i":575,"v":1780},{"p":4,"s":"D","i":585,"v":1699},{"p":4,"s":"D","i":600,"v":1820},{"p":4,"s":"D","i":615,"v":1780},{"p":4,"s":"D","i":630,"v":1681},{"p":4,"s":"D","i":645,"v":1760},{"p":4,"s":"D","i":660,"v":1850},{"p":4,"s":"D","i":675,"v":1796},{"p":4,"s":"D","i":690,"v":1940},{"p":4,"s":"D","i":705,"v":1900},{"p":4,"s":"D","i":720,"v":1950},{"p":4,"s":"D","i":735,"v":1880},{"p":4,"s":"D","i":750,"v":1890},{"p":4,"s":"D","i":765,"v":1780},{"p":4,"s":"D","i":775,"v":1650},{"p":4,"s":"D","i":790,"v":1700},{"p":4,"s":"D","i":800,"v":1585},{"p":4,"s":"D","i":815,"v":1760},{"p":4,"s":"D","i":830,"v":1700},{"p":4,"s":"D","i":845,"v":1740},{"p":4,"s":"D","i":860,"v":1620},{"p":4,"s":"D","i":875,"v":1490},{"p":4,"s":"D","i":890,"v":1570},{"p":4,"s":"D","i":900,"v":1455},{"p":4,"s":"D","i":915,"v":1600},{"p":4,"s":"D","i":930,"v":1660},{"p":4,"s":"D","i":945,"v":1560},{"p":4,"s":"D","i":960,"v":1700},{"p":4,"s":"D","i":975,"v":1600},{"p":4,"s":"D","i":985,"v":1543},{"p":4,"s":"D","i":1000,"v":1640},{"p":4,"s":"D","i":1015,"v":1600},{"p":4,"s":"D","i":1030,"v":1690},{"p":4,"s":"D","i":1045,"v":1720},{"p":4,"s":"D","i":1060,"v":1650},{"p":4,"s":"D","i":1075,"v":1640},{"p":4,"s":"D","i":1090,"v":1592},{"p":4,"s":"D","i":1105,"v":1660},{"p":4,"s":"D","i":1120,"v":1700},{"p":4,"s":"D","i":1140,"v":1720},{"p":4,"s":"D","i":1155,"v":1740},{"p":4,"s":"D","i":1170,"v":1760},{"p":4,"s":"D","i":1185,"v":1780},{"p":4,"s":"D","i":1200,"v":1830},{"p":4,"s":"D","i":1215,"v":1916},{"p":4,"s":"D","i":1230,"v":1870},{"p":4,"s":"D","i":1245,"v":1930},{"p":4,"s":"D","i":1260,"v":1900},{"p":4,"s":"D","i":1275,"v":1950},{"p":4,"s":"D","i":1290,"v":1990},{"p":4,"s":"D","i":1305,"v":1960},{"p":4,"s":"D","i":1320,"v":2010},{"p":4,"s":"D","i":1335,"v":1980},{"p":4,"s":"D","i":1350,"v":2030},{"p":4,"s":"D","i":1365,"v":2100},{"p":4,"s":"D","i":1375,"v":2200},{"p":4,"s":"D","i":1385,"v":2080},{"p":4,"s":"D","i":1400,"v":2000},{"p":4,"s":"D","i":1415,"v":2060},{"p":4,"s":"D","i":1430,"v":2000},{"p":4,"s":"D","i":1445,"v":2070},{"p":4,"s":"D","i":1460,"v":2040},{"p":4,"s":"D","i":1475,"v":1990},{"p":4,"s":"D","i":1490,"v":2020},{"p":4,"s":"D","i":1505,"v":1920},{"p":4,"s":"D","i":1520,"v":1980},{"p":4,"s":"D","i":1535,"v":1900},{"p":4,"s":"D","i":1550,"v":1850},{"p":4,"s":"D","i":1565,"v":1770},{"p":4,"s":"D","i":1580,"v":1840},{"p":4,"s":"D","i":1595,"v":1760},{"p":4,"s":"D","i":1610,"v":1667},{"p":4,"s":"D","i":1625,"v":1780},{"p":4,"s":"D","i":1640,"v":1800},{"p":4,"s":"D","i":1655,"v":1860},{"p":4,"s":"D","i":1670,"v":1920},{"p":4,"s":"D","i":1685,"v":1880},{"p":4,"s":"D","i":1700,"v":1820},{"p":4,"s":"D","i":1710,"v":1810},{"p":4,"s":"D","i":1725,"v":1880},{"p":4,"s":"D","i":1740,"v":1950},{"p":4,"s":"D","i":1755,"v":1900},
{"p":4,"s":"S","i":0,"v":1415},{"p":4,"s":"S","i":20,"v":1445},{"p":4,"s":"S","i":40,"v":1480},{"p":4,"s":"S","i":55,"v":1510},{"p":4,"s":"S","i":70,"v":1490},{"p":4,"s":"S","i":85,"v":1480},{"p":4,"s":"S","i":100,"v":1530},{"p":4,"s":"S","i":115,"v":1590},{"p":4,"s":"S","i":130,"v":1630},{"p":4,"s":"S","i":150,"v":1660},{"p":4,"s":"S","i":170,"v":1650},{"p":4,"s":"S","i":185,"v":1680},{"p":4,"s":"S","i":200,"v":1740},{"p":4,"s":"S","i":215,"v":1720},{"p":4,"s":"S","i":230,"v":1660},{"p":4,"s":"S","i":240,"v":1645},{"p":4,"s":"S","i":255,"v":1710},{"p":4,"s":"S","i":270,"v":1750},{"p":4,"s":"S","i":285,"v":1760},{"p":4,"s":"S","i":300,"v":1830},{"p":4,"s":"S","i":315,"v":1870},{"p":4,"s":"S","i":330,"v":1860},{"p":4,"s":"S","i":345,"v":1850},{"p":4,"s":"S","i":360,"v":1890},{"p":4,"s":"S","i":380,"v":1900},{"p":4,"s":"S","i":400,"v":1900},{"p":4,"s":"S","i":420,"v":1900},{"p":4,"s":"S","i":440,"v":1910},{"p":4,"s":"S","i":460,"v":1940},{"p":4,"s":"S","i":475,"v":1975},{"p":4,"s":"S","i":490,"v":1980},{"p":4,"s":"S","i":505,"v":1955},{"p":4,"s":"S","i":520,"v":1900},{"p":4,"s":"S","i":535,"v":1880},{"p":4,"s":"S","i":550,"v":1840},{"p":4,"s":"S","i":565,"v":1790},{"p":4,"s":"S","i":575,"v":1760},{"p":4,"s":"S","i":585,"v":1800},{"p":4,"s":"S","i":600,"v":1820},{"p":4,"s":"S","i":615,"v":1780},{"p":4,"s":"S","i":630,"v":1730},{"p":4,"s":"S","i":645,"v":1800},{"p":4,"s":"S","i":660,"v":1860},{"p":4,"s":"S","i":675,"v":1870},{"p":4,"s":"S","i":690,"v":1920},{"p":4,"s":"S","i":705,"v":1930},{"p":4,"s":"S","i":720,"v":1900},{"p":4,"s":"S","i":735,"v":1870},{"p":4,"s":"S","i":750,"v":1870},{"p":4,"s":"S","i":760,"v":1800},{"p":4,"s":"S","i":775,"v":1680},{"p":4,"s":"S","i":790,"v":1700},{"p":4,"s":"S","i":805,"v":1730},{"p":4,"s":"S","i":820,"v":1730},{"p":4,"s":"S","i":835,"v":1710},{"p":4,"s":"S","i":850,"v":1650},{"p":4,"s":"S","i":865,"v":1600},{"p":4,"s":"S","i":880,"v":1520},{"p":4,"s":"S","i":895,"v":1530},{"p":4,"s":"S","i":910,"v":1600},{"p":4,"s":"S","i":925,"v":1640},{"p":4,"s":"S","i":940,"v":1640},{"p":4,"s":"S","i":955,"v":1640},{"p":4,"s":"S","i":970,"v":1610},{"p":4,"s":"S","i":985,"v":1590},{"p":4,"s":"S","i":1000,"v":1620},{"p":4,"s":"S","i":1015,"v":1660},{"p":4,"s":"S","i":1030,"v":1690},{"p":4,"s":"S","i":1045,"v":1690},{"p":4,"s":"S","i":1060,"v":1670},{"p":4,"s":"S","i":1075,"v":1640},{"p":4,"s":"S","i":1090,"v":1610},{"p":4,"s":"S","i":1105,"v":1640},{"p":4,"s":"S","i":1120,"v":1680},{"p":4,"s":"S","i":1140,"v":1720},{"p":4,"s":"S","i":1160,"v":1750},{"p":4,"s":"S","i":1180,"v":1790},{"p":4,"s":"S","i":1200,"v":1850},{"p":4,"s":"S","i":1215,"v":1890},{"p":4,"s":"S","i":1230,"v":1900},{"p":4,"s":"S","i":1250,"v":1910},{"p":4,"s":"S","i":1270,"v":1950},{"p":4,"s":"S","i":1290,"v":1990},{"p":4,"s":"S","i":1310,"v":2000},{"p":4,"s":"S","i":1330,"v":1990},{"p":4,"s":"S","i":1350,"v":2020},{"p":4,"s":"S","i":1365,"v":2080},{"p":4,"s":"S","i":1375,"v":2150},{"p":4,"s":"S","i":1385,"v":2120},{"p":4,"s":"S","i":1395,"v":2040},{"p":4,"s":"S","i":1410,"v":2010},{"p":4,"s":"S","i":1425,"v":2030},{"p":4,"s":"S","i":1440,"v":2050},{"p":4,"s":"S","i":1455,"v":2040},{"p":4,"s":"S","i":1470,"v":2000},{"p":4,"s":"S","i":1490,"v":1970},{"p":4,"s":"S","i":1505,"v":1960},{"p":4,"s":"S","i":1520,"v":1950},{"p":4,"s":"S","i":1535,"v":1900},{"p":4,"s":"S","i":1550,"v":1840},{"p":4,"s":"S","i":1570,"v":1810},{"p":4,"s":"S","i":1590,"v":1780},{"p":4,"s":"S","i":1610,"v":1720},{"p":4,"s":"S","i":1625,"v":1760},{"p":4,"s":"S","i":1640,"v":1820},{"p":4,"s":"S","i":1655,"v":1860},{"p":4,"s":"S","i":1670,"v":1880},{"p":4,"s":"S","i":1685,"v":1900},{"p":4,"s":"S","i":1700,"v":1860},{"p":4,"s":"S","i":1712,"v":1835},{"p":4,"s":"S","i":1725,"v":1880},{"p":4,"s":"S","i":1740,"v":1935},{"p":4,"s":"S","i":1755,"v":1900},{"p":4,"s":"S","i":1760,"v":1885},
{"p":4,"s":"T","i":5,"v":1450},{"p":4,"s":"T","i":50,"v":1510},{"p":4,"s":"T","i":100,"v":1580},{"p":4,"s":"T","i":150,"v":1650},{"p":4,"s":"T","i":200,"v":1720},{"p":4,"s":"T","i":250,"v":1770},{"p":4,"s":"T","i":300,"v":1820},{"p":4,"s":"T","i":350,"v":1860},{"p":4,"s":"T","i":400,"v":1890},{"p":4,"s":"T","i":450,"v":1915},{"p":4,"s":"T","i":500,"v":1925},{"p":4,"s":"T","i":550,"v":1915},{"p":4,"s":"T","i":600,"v":1890},{"p":4,"s":"T","i":650,"v":1850},{"p":4,"s":"T","i":700,"v":1790},{"p":4,"s":"T","i":750,"v":1720},{"p":4,"s":"T","i":800,"v":1670},{"p":4,"s":"T","i":850,"v":1640},{"p":4,"s":"T","i":900,"v":1625},{"p":4,"s":"T","i":950,"v":1620},{"p":4,"s":"T","i":1000,"v":1625},{"p":4,"s":"T","i":1050,"v":1640},{"p":4,"s":"T","i":1100,"v":1680},{"p":4,"s":"T","i":1150,"v":1740},{"p":4,"s":"T","i":1200,"v":1830},{"p":4,"s":"T","i":1250,"v":1910},{"p":4,"s":"T","i":1300,"v":1970},{"p":4,"s":"T","i":1350,"v":2005},{"p":4,"s":"T","i":1400,"v":2020},{"p":4,"s":"T","i":1450,"v":2010},{"p":4,"s":"T","i":1500,"v":1970},{"p":4,"s":"T","i":1550,"v":1920},{"p":4,"s":"T","i":1600,"v":1880},{"p":4,"s":"T","i":1650,"v":1865},{"p":4,"s":"T","i":1700,"v":1860},{"p":4,"s":"T","i":1760,"v":1865},
{"p":5,"s":"D","i":5,"v":3540},{"p":5,"s":"D","i":10,"v":3700},{"p":5,"s":"D","i":20,"v":3560},{"p":5,"s":"D","i":30,"v":3820},{"p":5,"s":"D","i":40,"v":3500},{"p":5,"s":"D","i":50,"v":3750},{"p":5,"s":"D","i":60,"v":3700},{"p":5,"s":"D","i":70,"v":3780},{"p":5,"s":"D","i":80,"v":3600},{"p":5,"s":"D","i":90,"v":3500},{"p":5,"s":"D","i":100,"v":3700},{"p":5,"s":"D","i":110,"v":3800},{"p":5,"s":"D","i":120,"v":4000},{"p":5,"s":"D","i":130,"v":3880},{"p":5,"s":"D","i":140,"v":3950},{"p":5,"s":"D","i":150,"v":3800},{"p":5,"s":"D","i":160,"v":3900},{"p":5,"s":"D","i":170,"v":3700},{"p":5,"s":"D","i":180,"v":3830},{"p":5,"s":"D","i":190,"v":3730},{"p":5,"s":"D","i":200,"v":3800},{"p":5,"s":"D","i":210,"v":3600},{"p":5,"s":"D","i":220,"v":3300},{"p":5,"s":"D","i":230,"v":2955},{"p":5,"s":"D","i":240,"v":3200},{"p":5,"s":"D","i":250,"v":3100},{"p":5,"s":"D","i":260,"v":3250},{"p":5,"s":"D","i":270,"v":3000},{"p":5,"s":"D","i":280,"v":3230},{"p":5,"s":"D","i":290,"v":3350},{"p":5,"s":"D","i":300,"v":3400},{"p":5,"s":"D","i":310,"v":3500},{"p":5,"s":"D","i":320,"v":3250},{"p":5,"s":"D","i":330,"v":3200},{"p":5,"s":"D","i":340,"v":3150},{"p":5,"s":"D","i":350,"v":3250},{"p":5,"s":"D","i":360,"v":3100},{"p":5,"s":"D","i":375,"v":2950},{"p":5,"s":"D","i":385,"v":2822},{"p":5,"s":"D","i":395,"v":2900},{"p":5,"s":"D","i":405,"v":2820},{"p":5,"s":"D","i":415,"v":3100},{"p":5,"s":"D","i":425,"v":3300},{"p":5,"s":"D","i":435,"v":3250},{"p":5,"s":"D","i":445,"v":3380},{"p":5,"s":"D","i":455,"v":3250},{"p":5,"s":"D","i":465,"v":3400},{"p":5,"s":"D","i":475,"v":3300},{"p":5,"s":"D","i":485,"v":3500},{"p":5,"s":"D","i":495,"v":3350},{"p":5,"s":"D","i":505,"v":3550},{"p":5,"s":"D","i":515,"v":3450},{"p":5,"s":"D","i":525,"v":3705},{"p":5,"s":"D","i":535,"v":3400},{"p":5,"s":"D","i":545,"v":3300},{"p":5,"s":"D","i":555,"v":3100},{"p":5,"s":"D","i":565,"v":2900},{"p":5,"s":"D","i":575,"v":3100},{"p":5,"s":"D","i":585,"v":2900},{"p":5,"s":"D","i":595,"v":2700},{"p":5,"s":"D","i":605,"v":2437},{"p":5,"s":"D","i":615,"v":2650},{"p":5,"s":"D","i":625,"v":2550},{"p":5,"s":"D","i":640,"v":2700},{"p":5,"s":"D","i":650,"v":2550},{"p":5,"s":"D","i":660,"v":2400},{"p":5,"s":"D","i":670,"v":2305},{"p":5,"s":"D","i":680,"v":2600},{"p":5,"s":"D","i":690,"v":2720},{"p":5,"s":"D","i":700,"v":2600},{"p":5,"s":"D","i":710,"v":2730},{"p":5,"s":"D","i":720,"v":2500},{"p":5,"s":"D","i":730,"v":2550},{"p":5,"s":"D","i":740,"v":2400},{"p":5,"s":"D","i":750,"v":2200},{"p":5,"s":"D","i":760,"v":2300},{"p":5,"s":"D","i":770,"v":1950},{"p":5,"s":"D","i":780,"v":1900},{"p":5,"s":"D","i":790,"v":1745},{"p":5,"s":"D","i":800,"v":1980},{"p":5,"s":"D","i":810,"v":2000},{"p":5,"s":"D","i":820,"v":1900},{"p":5,"s":"D","i":830,"v":2000},{"p":5,"s":"D","i":840,"v":1850},{"p":5,"s":"D","i":850,"v":1700},{"p":5,"s":"D","i":860,"v":1780},{"p":5,"s":"D","i":870,"v":1505},{"p":5,"s":"D","i":880,"v":1600},{"p":5,"s":"D","i":890,"v":1900},{"p":5,"s":"D","i":900,"v":2100},{"p":5,"s":"D","i":910,"v":2000},{"p":5,"s":"D","i":920,"v":2050},{"p":5,"s":"D","i":930,"v":2220},{"p":5,"s":"D","i":940,"v":2100},{"p":5,"s":"D","i":950,"v":2150},{"p":5,"s":"D","i":960,"v":2000},{"p":5,"s":"D","i":970,"v":2100},{"p":5,"s":"D","i":980,"v":2200},{"p":5,"s":"D","i":990,"v":2330},{"p":5,"s":"D","i":1000,"v":2500},{"p":5,"s":"D","i":1010,"v":2300},{"p":5,"s":"D","i":1020,"v":2450},{"p":5,"s":"D","i":1030,"v":2400},{"p":5,"s":"D","i":1040,"v":2350},{"p":5,"s":"D","i":1050,"v":2569},{"p":5,"s":"D","i":1060,"v":2150},{"p":5,"s":"D","i":1070,"v":2300},{"p":5,"s":"D","i":1080,"v":2200},{"p":5,"s":"D","i":1090,"v":2250},{"p":5,"s":"D","i":1100,"v":2180},{"p":5,"s":"D","i":1110,"v":2450},{"p":5,"s":"D","i":1120,"v":2550},{"p":5,"s":"D","i":1130,"v":2620},{"p":5,"s":"D","i":1140,"v":2500},{"p":5,"s":"D","i":1150,"v":2600},{"p":5,"s":"D","i":1160,"v":2450},{"p":5,"s":"D","i":1170,"v":2600},{"p":5,"s":"D","i":1180,"v":2700},{"p":5,"s":"D","i":1190,"v":2450},{"p":5,"s":"D","i":1200,"v":2650},{"p":5,"s":"D","i":1210,"v":2700},{"p":5,"s":"D","i":1220,"v":2750},{"p":5,"s":"D","i":1230,"v":2800},{"p":5,"s":"D","i":1240,"v":2900},{"p":5,"s":"D","i":1250,"v":2980},{"p":5,"s":"D","i":1260,"v":2900},{"p":5,"s":"D","i":1270,"v":2850},{"p":5,"s":"D","i":1280,"v":2800},{"p":5,"s":"D","i":1290,"v":2700},{"p":5,"s":"D","i":1300,"v":2650},{"p":5,"s":"D","i":1310,"v":2700},{"p":5,"s":"D","i":1320,"v":2900},{"p":5,"s":"D","i":1330,"v":3100},{"p":5,"s":"D","i":1340,"v":3221},{"p":5,"s":"D","i":1350,"v":3100},{"p":5,"s":"D","i":1360,"v":3150},{"p":5,"s":"D","i":1370,"v":3000},{"p":5,"s":"D","i":1380,"v":3050},{"p":5,"s":"D","i":1390,"v":2950},{"p":5,"s":"D","i":1400,"v":3050},{"p":5,"s":"D","i":1410,"v":2900},{"p":5,"s":"D","i":1420,"v":2700},{"p":5,"s":"D","i":1430,"v":2600},{"p":5,"s":"D","i":1440,"v":2450},{"p":5,"s":"D","i":1450,"v":2350},{"p":5,"s":"D","i":1460,"v":2450},{"p":5,"s":"D","i":1470,"v":2700},{"p":5,"s":"D","i":1480,"v":2750},{"p":5,"s":"D","i":1490,"v":2600},{"p":5,"s":"D","i":1500,"v":2450},{"p":5,"s":"D","i":1510,"v":2316},{"p":5,"s":"D","i":1520,"v":2600},{"p":5,"s":"D","i":1530,"v":2750},{"p":5,"s":"D","i":1540,"v":2700},{"p":5,"s":"D","i":1550,"v":2500},{"p":5,"s":"D","i":1560,"v":2450},{"p":5,"s":"D","i":1570,"v":2420},{"p":5,"s":"D","i":1580,"v":2780},{"p":5,"s":"D","i":1590,"v":2930},{"p":5,"s":"D","i":1600,"v":2850},{"p":5,"s":"D","i":1610,"v":2930},{"p":5,"s":"D","i":1620,"v":2800},{"p":5,"s":"D","i":1630,"v":2850},{"p":5,"s":"D","i":1640,"v":2600},{"p":5,"s":"D","i":1650,"v":2800},{"p":5,"s":"D","i":1660,"v":2650},{"p":5,"s":"D","i":1670,"v":2750},{"p":5,"s":"D","i":1680,"v":2600},{"p":5,"s":"D","i":1690,"v":2500},{"p":5,"s":"D","i":1700,"v":2700},{"p":5,"s":"D","i":1710,"v":2850},{"p":5,"s":"D","i":1720,"v":2930},{"p":5,"s":"D","i":1730,"v":2800},{"p":5,"s":"D","i":1740,"v":2850},
{"p":5,"s":"S","i":0,"v":3600},{"p":5,"s":"S","i":15,"v":3700},{"p":5,"s":"S","i":30,"v":3620},{"p":5,"s":"S","i":45,"v":3750},{"p":5,"s":"S","i":60,"v":3700},{"p":5,"s":"S","i":75,"v":3620},{"p":5,"s":"S","i":90,"v":3600},{"p":5,"s":"S","i":105,"v":3750},{"p":5,"s":"S","i":120,"v":3920},{"p":5,"s":"S","i":135,"v":3900},{"p":5,"s":"S","i":150,"v":3840},{"p":5,"s":"S","i":165,"v":3800},{"p":5,"s":"S","i":180,"v":3790},{"p":5,"s":"S","i":195,"v":3780},{"p":5,"s":"S","i":210,"v":3600},{"p":5,"s":"S","i":220,"v":3350},{"p":5,"s":"S","i":230,"v":3150},{"p":5,"s":"S","i":240,"v":3120},{"p":5,"s":"S","i":255,"v":3180},{"p":5,"s":"S","i":270,"v":3200},{"p":5,"s":"S","i":285,"v":3300},{"p":5,"s":"S","i":300,"v":3420},{"p":5,"s":"S","i":310,"v":3450},{"p":5,"s":"S","i":325,"v":3300},{"p":5,"s":"S","i":340,"v":3200},{"p":5,"s":"S","i":355,"v":3150},{"p":5,"s":"S","i":370,"v":3000},{"p":5,"s":"S","i":385,"v":2850},{"p":5,"s":"S","i":395,"v":2850},{"p":5,"s":"S","i":405,"v":2950},{"p":5,"s":"S","i":420,"v":3200},{"p":5,"s":"S","i":440,"v":3280},{"p":5,"s":"S","i":460,"v":3320},{"p":5,"s":"S","i":480,"v":3400},{"p":5,"s":"S","i":500,"v":3450},{"p":5,"s":"S","i":515,"v":3530},{"p":5,"s":"S","i":525,"v":3550},{"p":5,"s":"S","i":535,"v":3450},{"p":5,"s":"S","i":545,"v":3250},{"p":5,"s":"S","i":560,"v":3050},{"p":5,"s":"S","i":575,"v":2950},{"p":5,"s":"S","i":590,"v":2750},{"p":5,"s":"S","i":600,"v":2600},{"p":5,"s":"S","i":615,"v":2650},{"p":5,"s":"S","i":630,"v":2600},{"p":5,"s":"S","i":645,"v":2430},{"p":5,"s":"S","i":660,"v":2450},{"p":5,"s":"S","i":675,"v":2550},{"p":5,"s":"S","i":690,"v":2680},{"p":5,"s":"S","i":705,"v":2600},{"p":5,"s":"S","i":720,"v":2500},{"p":5,"s":"S","i":735,"v":2450},{"p":5,"s":"S","i":750,"v":2250},{"p":5,"s":"S","i":765,"v":2050},{"p":5,"s":"S","i":780,"v":1900},{"p":5,"s":"S","i":795,"v":1900},{"p":5,"s":"S","i":810,"v":1950},{"p":5,"s":"S","i":825,"v":1950},{"p":5,"s":"S","i":840,"v":1820},{"p":5,"s":"S","i":855,"v":1650},{"p":5,"s":"S","i":865,"v":1600},{"p":5,"s":"S","i":880,"v":1650},{"p":5,"s":"S","i":890,"v":1850},{"p":5,"s":"S","i":905,"v":2050},{"p":5,"s":"S","i":920,"v":2110},{"p":5,"s":"S","i":935,"v":2150},{"p":5,"s":"S","i":950,"v":2120},{"p":5,"s":"S","i":965,"v":2100},{"p":5,"s":"S","i":980,"v":2150},{"p":5,"s":"S","i":995,"v":2300},{"p":5,"s":"S","i":1010,"v":2400},{"p":5,"s":"S","i":1025,"v":2380},{"p":5,"s":"S","i":1040,"v":2420},{"p":5,"s":"S","i":1055,"v":2450},{"p":5,"s":"S","i":1065,"v":2300},{"p":5,"s":"S","i":1080,"v":2200},{"p":5,"s":"S","i":1095,"v":2200},{"p":5,"s":"S","i":1110,"v":2350},{"p":5,"s":"S","i":1125,"v":2500},{"p":5,"s":"S","i":1140,"v":2560},{"p":5,"s":"S","i":1155,"v":2580},{"p":5,"s":"S","i":1170,"v":2530},{"p":5,"s":"S","i":1185,"v":2570},{"p":5,"s":"S","i":1200,"v":2620},{"p":5,"s":"S","i":1215,"v":2700},{"p":5,"s":"S","i":1230,"v":2780},{"p":5,"s":"S","i":1245,"v":2900},{"p":5,"s":"S","i":1260,"v":2880},{"p":5,"s":"S","i":1275,"v":2800},{"p":5,"s":"S","i":1290,"v":2720},{"p":5,"s":"S","i":1305,"v":2700},{"p":5,"s":"S","i":1320,"v":2850},{"p":5,"s":"S","i":1335,"v":3050},{"p":5,"s":"S","i":1350,"v":3120},{"p":5,"s":"S","i":1365,"v":3100},{"p":5,"s":"S","i":1380,"v":3020},{"p":5,"s":"S","i":1395,"v":3000},{"p":5,"s":"S","i":1410,"v":2950},{"p":5,"s":"S","i":1425,"v":2700},{"p":5,"s":"S","i":1440,"v":2500},{"p":5,"s":"S","i":1450,"v":2380},{"p":5,"s":"S","i":1465,"v":2500},{"p":5,"s":"S","i":1475,"v":2650},{"p":5,"s":"S","i":1490,"v":2580},{"p":5,"s":"S","i":1505,"v":2380},{"p":5,"s":"S","i":1520,"v":2550},{"p":5,"s":"S","i":1535,"v":2700},{"p":5,"s":"S","i":1550,"v":2550},{"p":5,"s":"S","i":1565,"v":2470},{"p":5,"s":"S","i":1580,"v":2600},{"p":5,"s":"S","i":1595,"v":2850},{"p":5,"s":"S","i":1610,"v":2870},{"p":5,"s":"S","i":1625,"v":2800},{"p":5,"s":"S","i":1640,"v":2750},{"p":5,"s":"S","i":1655,"v":2700},{"p":5,"s":"S","i":1670,"v":2700},{"p":5,"s":"S","i":1685,"v":2580},{"p":5,"s":"S","i":1695,"v":2550},{"p":5,"s":"S","i":1710,"v":2750},{"p":5,"s":"S","i":1725,"v":2870},{"p":5,"s":"S","i":1735,"v":2850},{"p":5,"s":"S","i":1745,"v":2800},
{"p":5,"s":"T","i":5,"v":3760},{"p":5,"s":"T","i":50,"v":3700},{"p":5,"s":"T","i":100,"v":3620},{"p":5,"s":"T","i":150,"v":3540},{"p":5,"s":"T","i":200,"v":3480},{"p":5,"s":"T","i":250,"v":3420},{"p":5,"s":"T","i":300,"v":3370},{"p":5,"s":"T","i":350,"v":3320},{"p":5,"s":"T","i":400,"v":3270},{"p":5,"s":"T","i":450,"v":3200},{"p":5,"s":"T","i":500,"v":3100},{"p":5,"s":"T","i":550,"v":2960},{"p":5,"s":"T","i":600,"v":2800},{"p":5,"s":"T","i":650,"v":2600},{"p":5,"s":"T","i":700,"v":2400},{"p":5,"s":"T","i":750,"v":2220},{"p":5,"s":"T","i":800,"v":2080},{"p":5,"s":"T","i":850,"v":1990},{"p":5,"s":"T","i":880,"v":1970},{"p":5,"s":"T","i":900,"v":1975},{"p":5,"s":"T","i":950,"v":2030},{"p":5,"s":"T","i":1000,"v":2150},{"p":5,"s":"T","i":1050,"v":2300},{"p":5,"s":"T","i":1100,"v":2450},{"p":5,"s":"T","i":1150,"v":2590},{"p":5,"s":"T","i":1200,"v":2700},{"p":5,"s":"T","i":1250,"v":2770},{"p":5,"s":"T","i":1300,"v":2810},{"p":5,"s":"T","i":1350,"v":2800},{"p":5,"s":"T","i":1400,"v":2760},{"p":5,"s":"T","i":1450,"v":2710},{"p":5,"s":"T","i":1500,"v":2660},{"p":5,"s":"T","i":1550,"v":2630},{"p":5,"s":"T","i":1600,"v":2640},{"p":5,"s":"T","i":1650,"v":2680},{"p":5,"s":"T","i":1700,"v":2750},{"p":5,"s":"T","i":1745,"v":2840},
{"p":6,"s":"D","i":5,"v":5.42},{"p":6,"s":"D","i":15,"v":5.47},{"p":6,"s":"D","i":25,"v":5.38},{"p":6,"s":"D","i":35,"v":5.2},{"p":6,"s":"D","i":45,"v":5.3},{"p":6,"s":"D","i":55,"v":5.25},{"p":6,"s":"D","i":65,"v":5.75},{"p":6,"s":"D","i":75,"v":5.25},{"p":6,"s":"D","i":85,"v":5.4},{"p":6,"s":"D","i":95,"v":5.2},{"p":6,"s":"D","i":110,"v":5.3},{"p":6,"s":"D","i":120,"v":5.2},{"p":6,"s":"D","i":135,"v":5.1},{"p":6,"s":"D","i":150,"v":4.9},{"p":6,"s":"D","i":165,"v":4.8},{"p":6,"s":"D","i":180,"v":4.6},{"p":6,"s":"D","i":195,"v":4.35},{"p":6,"s":"D","i":210,"v":4.1},{"p":6,"s":"D","i":225,"v":4.02},{"p":6,"s":"D","i":240,"v":4.1},{"p":6,"s":"D","i":255,"v":4.05},{"p":6,"s":"D","i":270,"v":4.15},{"p":6,"s":"D","i":285,"v":4.08},{"p":6,"s":"D","i":300,"v":4.2},{"p":6,"s":"D","i":315,"v":4.1},{"p":6,"s":"D","i":330,"v":4.15},{"p":6,"s":"D","i":345,"v":4.1},{"p":6,"s":"D","i":360,"v":4.18},{"p":6,"s":"D","i":375,"v":4.08},{"p":6,"s":"D","i":390,"v":4.15},{"p":6,"s":"D","i":405,"v":4.05},{"p":6,"s":"D","i":420,"v":4.1},{"p":6,"s":"D","i":435,"v":4.0},{"p":6,"s":"D","i":450,"v":4.05},{"p":6,"s":"D","i":465,"v":3.82},{"p":6,"s":"D","i":480,"v":4.0},{"p":6,"s":"D","i":495,"v":4.1},{"p":6,"s":"D","i":510,"v":4.2},{"p":6,"s":"D","i":525,"v":4.05},{"p":6,"s":"D","i":540,"v":4.2},{"p":6,"s":"D","i":555,"v":4.3},{"p":6,"s":"D","i":570,"v":4.45},{"p":6,"s":"D","i":585,"v":4.35},{"p":6,"s":"D","i":600,"v":4.5},{"p":6,"s":"D","i":615,"v":4.4},{"p":6,"s":"D","i":630,"v":4.55},{"p":6,"s":"D","i":645,"v":4.45},{"p":6,"s":"D","i":660,"v":4.6},{"p":6,"s":"D","i":675,"v":4.45},{"p":6,"s":"D","i":690,"v":4.55},{"p":6,"s":"D","i":705,"v":4.4},{"p":6,"s":"D","i":720,"v":4.65},{"p":6,"s":"D","i":735,"v":4.5},{"p":6,"s":"D","i":750,"v":4.4},{"p":6,"s":"D","i":765,"v":4.6},{"p":6,"s":"D","i":780,"v":4.45},{"p":6,"s":"D","i":795,"v":4.55},{"p":6,"s":"D","i":810,"v":4.4},{"p":6,"s":"D","i":825,"v":4.45},{"p":6,"s":"D","i":835,"v":4.35},{"p":6,"s":"D","i":845,"v":5.1},{"p":6,"s":"D","i":855,"v":4.7},{"p":6,"s":"D","i":870,"v":5.0},{"p":6,"s":"D","i":885,"v":5.3},{"p":6,"s":"D","i":900,"v":5.5},{"p":6,"s":"D","i":915,"v":5.9},{"p":6,"s":"D","i":930,"v":6.0},{"p":6,"s":"D","i":945,"v":6.3},{"p":6,"s":"D","i":960,"v":6.2},{"p":6,"s":"D","i":975,"v":6.8},{"p":6,"s":"D","i":990,"v":6.6},{"p":6,"s":"D","i":1005,"v":6.85},{"p":6,"s":"D","i":1020,"v":6.7},{"p":6,"s":"D","i":1035,"v":6.8},{"p":6,"s":"D","i":1045,"v":7.42},{"p":6,"s":"D","i":1055,"v":7.0},{"p":6,"s":"D","i":1065,"v":7.1},{"p":6,"s":"D","i":1080,"v":6.9},{"p":6,"s":"D","i":1095,"v":7.0},{"p":6,"s":"D","i":1105,"v":7.2},{"p":6,"s":"D","i":1115,"v":6.95},{"p":6,"s":"D","i":1130,"v":6.9},{"p":6,"s":"D","i":1145,"v":6.8},{"p":6,"s":"D","i":1160,"v":7.0},{"p":6,"s":"D","i":1170,"v":6.7},{"p":6,"s":"D","i":1185,"v":6.75},{"p":6,"s":"D","i":1200,"v":6.55},{"p":6,"s":"D","i":1215,"v":6.6},{"p":6,"s":"D","i":1225,"v":6.45},{"p":6,"s":"D","i":1240,"v":6.5},{"p":6,"s":"D","i":1255,"v":6.2},{"p":6,"s":"D","i":1265,"v":6.0},{"p":6,"s":"D","i":1280,"v":5.85},{"p":6,"s":"D","i":1295,"v":5.6},{"p":6,"s":"D","i":1310,"v":5.55},{"p":6,"s":"D","i":1325,"v":5.5},{"p":6,"s":"D","i":1340,"v":5.45},{"p":6,"s":"D","i":1355,"v":5.35},{"p":6,"s":"D","i":1370,"v":5.62},{"p":6,"s":"D","i":1385,"v":5.3},{"p":6,"s":"D","i":1400,"v":5.35},{"p":6,"s":"D","i":1415,"v":5.25},{"p":6,"s":"D","i":1430,"v":5.3},{"p":6,"s":"D","i":1445,"v":5.0},{"p":6,"s":"D","i":1460,"v":5.0},{"p":6,"s":"D","i":1475,"v":4.9},{"p":6,"s":"D","i":1490,"v":4.8},{"p":6,"s":"D","i":1500,"v":4.75},{"p":6,"s":"D","i":1515,"v":4.72},{"p":6,"s":"D","i":1530,"v":4.7},{"p":6,"s":"D","i":1545,"v":4.65},{"p":6,"s":"D","i":1560,"v":4.6},{"p":6,"s":"D","i":1575,"v":4.55},{"p":6,"s":"D","i":1590,"v":4.6},{"p":6,"s":"D","i":1605,"v":4.55},{"p":6,"s":"D","i":1620,"v":4.6},{"p":6,"s":"D","i":1635,"v":4.55},{"p":6,"s":"D","i":1650,"v":4.6},{"p":6,"s":"D","i":1665,"v":4.55},{"p":6,"s":"D","i":1680,"v":4.58},{"p":6,"s":"D","i":1695,"v":4.65},{"p":6,"s":"D","i":1710,"v":4.55},{"p":6,"s":"D","i":1725,"v":4.7},{"p":6,"s":"D","i":1740,"v":4.6},{"p":6,"s":"D","i":1755,"v":4.65},{"p":6,"s":"D","i":1770,"v":4.55},{"p":6,"s":"D","i":1785,"v":4.6},{"p":6,"s":"D","i":1800,"v":4.55},{"p":6,"s":"D","i":1815,"v":4.65},{"p":6,"s":"D","i":1830,"v":4.58},
{"p":6,"s":"S","i":5,"v":5.45},{"p":6,"s":"S","i":20,"v":5.45},{"p":6,"s":"S","i":35,"v":5.3},{"p":6,"s":"S","i":50,"v":5.25},{"p":6,"s":"S","i":65,"v":5.3},{"p":6,"s":"S","i":80,"v":5.35},{"p":6,"s":"S","i":95,"v":5.3},{"p":6,"s":"S","i":110,"v":5.25},{"p":6,"s":"S","i":125,"v":5.15},{"p":6,"s":"S","i":140,"v":5.0},{"p":6,"s":"S","i":155,"v":4.85},{"p":6,"s":"S","i":170,"v":4.65},{"p":6,"s":"S","i":185,"v":4.4},{"p":6,"s":"S","i":200,"v":4.2},{"p":6,"s":"S","i":215,"v":4.05},{"p":6,"s":"S","i":230,"v":4.05},{"p":6,"s":"S","i":245,"v":4.1},{"p":6,"s":"S","i":260,"v":4.1},{"p":6,"s":"S","i":280,"v":4.12},{"p":6,"s":"S","i":300,"v":4.15},{"p":6,"s":"S","i":320,"v":4.12},{"p":6,"s":"S","i":340,"v":4.1},{"p":6,"s":"S","i":360,"v":4.15},{"p":6,"s":"S","i":375,"v":4.22},{"p":6,"s":"S","i":390,"v":4.15},{"p":6,"s":"S","i":405,"v":4.08},{"p":6,"s":"S","i":420,"v":4.05},{"p":6,"s":"S","i":435,"v":4.05},{"p":6,"s":"S","i":450,"v":4.0},{"p":6,"s":"S","i":465,"v":3.85},{"p":6,"s":"S","i":480,"v":3.95},{"p":6,"s":"S","i":495,"v":4.1},{"p":6,"s":"S","i":510,"v":4.12},{"p":6,"s":"S","i":525,"v":4.15},{"p":6,"s":"S","i":540,"v":4.2},{"p":6,"s":"S","i":555,"v":4.3},{"p":6,"s":"S","i":570,"v":4.4},{"p":6,"s":"S","i":585,"v":4.4},{"p":6,"s":"S","i":600,"v":4.4},{"p":6,"s":"S","i":615,"v":4.45},{"p":6,"s":"S","i":630,"v":4.5},{"p":6,"s":"S","i":660,"v":4.5},{"p":6,"s":"S","i":690,"v":4.5},{"p":6,"s":"S","i":705,"v":4.55},{"p":6,"s":"S","i":720,"v":4.5},{"p":6,"s":"S","i":750,"v":4.5},{"p":6,"s":"S","i":765,"v":4.52},{"p":6,"s":"S","i":780,"v":4.5},{"p":6,"s":"S","i":795,"v":4.55},{"p":6,"s":"S","i":810,"v":4.52},{"p":6,"s":"S","i":825,"v":4.48},{"p":6,"s":"S","i":840,"v":4.45},{"p":6,"s":"S","i":855,"v":4.6},{"p":6,"s":"S","i":870,"v":4.9},{"p":6,"s":"S","i":885,"v":5.2},{"p":6,"s":"S","i":900,"v":5.5},{"p":6,"s":"S","i":915,"v":5.9},{"p":6,"s":"S","i":930,"v":6.1},{"p":6,"s":"S","i":945,"v":6.2},{"p":6,"s":"S","i":960,"v":6.4},{"p":6,"s":"S","i":975,"v":6.6},{"p":6,"s":"S","i":990,"v":6.7},{"p":6,"s":"S","i":1005,"v":6.75},{"p":6,"s":"S","i":1020,"v":6.75},{"p":6,"s":"S","i":1035,"v":6.85},{"p":6,"s":"S","i":1050,"v":7.05},{"p":6,"s":"S","i":1065,"v":7.07},{"p":6,"s":"S","i":1080,"v":7.0},{"p":6,"s":"S","i":1095,"v":6.95},{"p":6,"s":"S","i":1110,"v":6.9},{"p":6,"s":"S","i":1125,"v":6.85},{"p":6,"s":"S","i":1140,"v":6.8},{"p":6,"s":"S","i":1155,"v":6.78},{"p":6,"s":"S","i":1170,"v":6.75},{"p":6,"s":"S","i":1185,"v":6.7},{"p":6,"s":"S","i":1200,"v":6.6},{"p":6,"s":"S","i":1215,"v":6.5},{"p":6,"s":"S","i":1230,"v":6.4},{"p":6,"s":"S","i":1245,"v":6.25},{"p":6,"s":"S","i":1260,"v":6.05},{"p":6,"s":"S","i":1275,"v":5.85},{"p":6,"s":"S","i":1290,"v":5.7},{"p":6,"s":"S","i":1305,"v":5.6},{"p":6,"s":"S","i":1320,"v":5.55},{"p":6,"s":"S","i":1335,"v":5.5},{"p":6,"s":"S","i":1350,"v":5.45},{"p":6,"s":"S","i":1365,"v":5.4},{"p":6,"s":"S","i":1380,"v":5.35},{"p":6,"s":"S","i":1395,"v":5.35},{"p":6,"s":"S","i":1410,"v":5.3},{"p":6,"s":"S","i":1425,"v":5.25},{"p":6,"s":"S","i":1440,"v":5.1},{"p":6,"s":"S","i":1455,"v":5.0},{"p":6,"s":"S","i":1470,"v":4.95},{"p":6,"s":"S","i":1485,"v":4.85},{"p":6,"s":"S","i":1500,"v":4.75},{"p":6,"s":"S","i":1515,"v":4.7},{"p":6,"s":"S","i":1530,"v":4.65},{"p":6,"s":"S","i":1545,"v":4.62},{"p":6,"s":"S","i":1560,"v":4.6},{"p":6,"s":"S","i":1590,"v":4.6},{"p":6,"s":"S","i":1605,"v":4.55},{"p":6,"s":"S","i":1635,"v":4.55},{"p":6,"s":"S","i":1650,"v":4.52},{"p":6,"s":"S","i":1665,"v":4.52},{"p":6,"s":"S","i":1680,"v":4.55},{"p":6,"s":"S","i":1695,"v":4.6},{"p":6,"s":"S","i":1710,"v":4.62},{"p":6,"s":"S","i":1725,"v":4.65},{"p":6,"s":"S","i":1740,"v":4.62},{"p":6,"s":"S","i":1760,"v":4.6},{"p":6,"s":"S","i":1780,"v":4.6},{"p":6,"s":"S","i":1800,"v":4.58},{"p":6,"s":"S","i":1820,"v":4.57},{"p":6,"s":"S","i":1835,"v":4.57},
{"p":6,"s":"T","i":5,"v":5.65},{"p":6,"s":"T","i":50,"v":5.35},{"p":6,"s":"T","i":100,"v":5.03},{"p":6,"s":"T","i":150,"v":4.77},{"p":6,"s":"T","i":200,"v":4.58},{"p":6,"s":"T","i":250,"v":4.4},{"p":6,"s":"T","i":300,"v":4.24},{"p":6,"s":"T","i":350,"v":4.15},{"p":6,"s":"T","i":400,"v":4.1},{"p":6,"s":"T","i":450,"v":4.07},{"p":6,"s":"T","i":500,"v":4.06},{"p":6,"s":"T","i":550,"v":4.1},{"p":6,"s":"T","i":600,"v":4.18},{"p":6,"s":"T","i":650,"v":4.32},{"p":6,"s":"T","i":700,"v":4.5},{"p":6,"s":"T","i":750,"v":4.75},{"p":6,"s":"T","i":800,"v":5.09},{"p":6,"s":"T","i":850,"v":5.47},{"p":6,"s":"T","i":900,"v":5.85},{"p":6,"s":"T","i":950,"v":6.2},{"p":6,"s":"T","i":1000,"v":6.48},{"p":6,"s":"T","i":1050,"v":6.67},{"p":6,"s":"T","i":1100,"v":6.78},{"p":6,"s":"T","i":1125,"v":6.8},{"p":6,"s":"T","i":1150,"v":6.77},{"p":6,"s":"T","i":1200,"v":6.62},{"p":6,"s":"T","i":1250,"v":6.35},{"p":6,"s":"T","i":1300,"v":6.0},{"p":6,"s":"T","i":1350,"v":5.62},{"p":6,"s":"T","i":1400,"v":5.3},{"p":6,"s":"T","i":1450,"v":5.0},{"p":6,"s":"T","i":1500,"v":4.83},{"p":6,"s":"T","i":1550,"v":4.68},{"p":6,"s":"T","i":1600,"v":4.6},{"p":6,"s":"T","i":1650,"v":4.57},{"p":6,"s":"T","i":1700,"v":4.58},{"p":6,"s":"T","i":1750,"v":4.58},{"p":6,"s":"T","i":1835,"v":4.6}
]},
"resolve":{"scale":{"x":"independent","y":"independent","color":"independent"},"legend":{"color":"independent"}},
"concat":[
{"width":338,"height":330,"title":"Predicción SVM “JPEIPLUS”","transform":[{"filter":"datum.p == 1"}],"mark":{"type":"line","strokeWidth":2.3,"clip":true},
"encoding":{"x":{"field":"i","type":"quantitative","scale":{"domain":[-82,2000],"nice":false,"zero":false},"axis":{"values":[0,500,1000,1500,2000],"format":"d","labelFont":"Liberation Serif","labelFontSize":16.5,"labelColor":"#000000","title":"Index"}},
"y":{"field":"v","type":"quantitative","scale":{"domain":[628.6,866.1],"nice":false,"zero":false},"axis":{"values":[650,700,750,800,850],"format":"d","labelFont":"Liberation Serif","labelFontSize":16.5,"labelColor":"#000000","title":"JPEIPLUS$Y1"}},
"color":{"field":"s","type":"nominal","scale":{"domain":["D","S","T"],"range":["#000000","#C8102E","#1F3F8F"]},"legend":{"orient":"none","legendX":-66,"legendY":399,"labelExpr":"datum.label == 'D' ? 'Data' : datum.label == 'S' ? 'SVM Predicción' : 'tuned SVM Predicción'"}}}},
{"width":338,"height":330,"title":"Predicción SVM “JPEIPLUS”","transform":[{"filter":"datum.p == 2"}],"mark":{"type":"line","strokeWidth":2.3,"clip":true},
"encoding":{"x":{"field":"i","type":"quantitative","scale":{"domain":[-80,2000],"nice":false,"zero":false},"axis":{"values":[0,500,1000,1500,2000],"format":"d","labelFont":"Liberation Serif","labelFontSize":16.5,"labelColor":"#000000","title":"Index"}},
"y":{"field":"v","type":"quantitative","scale":{"domain":[830.6,1007],"nice":false,"zero":false},"axis":{"values":[850,900,950,1000],"format":"d","labelFont":"Liberation Serif","labelFontSize":16.5,"labelColor":"#000000","title":"SBUS57L$Y2"}},
"color":{"field":"s","type":"nominal","scale":{"domain":["D","S","T"],"range":["#000000","#C8102E","#1F3F8F"]},"legend":{"orient":"none","legendX":-66,"legendY":399,"labelExpr":"datum.label == 'D' ? 'Data' : datum.label == 'S' ? 'SVM Predicción' : 'tuned SVM Predicción'"}}}},
{"width":338,"height":330,"title":"Predicción SVM “SPX”","transform":[{"filter":"datum.p == 3"}],"mark":{"type":"line","strokeWidth":2.3,"clip":true},
"encoding":{"x":{"field":"i","type":"quantitative","scale":{"domain":[-82,2000],"nice":false,"zero":false},"axis":{"values":[0,500,1000,1500,2000],"format":"d","labelFont":"Liberation Serif","labelFontSize":16.5,"labelColor":"#000000","title":"Index"}},
"y":{"field":"v","type":"quantitative","scale":{"domain":[1437,3062],"nice":false,"zero":false},"axis":{"values":[1500,2000,2500,3000],"format":"d","labelFont":"Liberation Serif","labelFontSize":16.5,"labelColor":"#000000","title":"SPX$Y3"}},
"color":{"field":"s","type":"nominal","scale":{"domain":["D","S","T"],"range":["#000000","#C8102E","#1F3F8F"]},"legend":{"orient":"none","legendX":-66,"legendY":399,"labelExpr":"datum.label == 'D' ? 'Data' : datum.label == 'S' ? 'SVM Predicción' : 'tuned SVM Predicción'"}}}},
{"width":338,"height":330,"title":"Predicción SVM “MXEA”","transform":[{"filter":"datum.p == 4"}],"mark":{"type":"line","strokeWidth":2.3,"clip":true},
"encoding":{"x":{"field":"i","type":"quantitative","scale":{"domain":[-80,2000],"nice":false,"zero":false},"axis":{"values":[0,500,1000,1500,2000],"format":"d","labelFont":"Liberation Serif","labelFontSize":16.5,"labelColor":"#000000","title":"Index"}},
"y":{"field":"v","type":"quantitative","scale":{"domain":[1357,2234],"nice":false,"zero":false},"axis":{"values":[1400,1600,1800,2000,2200],"format":"d","labelFont":"Liberation Serif","labelFontSize":16.5,"labelColor":"#000000","title":"MXEA$Y4"}},
"color":{"field":"s","type":"nominal","scale":{"domain":["D","S","T"],"range":["#000000","#C8102E","#1F3F8F"]},"legend":{"orient":"none","legendX":-66,"legendY":399,"labelExpr":"datum.label == 'D' ? 'Data' : datum.label == 'S' ? 'SVM Predicción' : 'tuned SVM Predicción'"}}}},
{"width":338,"height":330,"title":"Predicción SVM “MSEUEGFL”","transform":[{"filter":"datum.p == 5"}],"mark":{"type":"line","strokeWidth":2.3,"clip":true},
"encoding":{"x":{"field":"i","type":"quantitative","scale":{"domain":[-82,2000],"nice":false,"zero":false},"axis":{"values":[0,500,1000,1500,2000],"format":"d","labelFont":"Liberation Serif","labelFontSize":16.5,"labelColor":"#000000","title":"Index"}},
"y":{"field":"v","type":"quantitative","scale":{"domain":[1470,4098],"nice":false,"zero":false},"axis":{"values":[1500,2000,2500,3000,3500,4000],"format":"d","labelFont":"Liberation Serif","labelFontSize":16.5,"labelColor":"#000000","title":"MSEUEGFL$Y5"}},
"color":{"field":"s","type":"nominal","scale":{"domain":["D","S","T"],"range":["#000000","#C8102E","#1F3F8F"]},"legend":{"orient":"none","legendX":-66,"legendY":399,"labelExpr":"datum.label == 'D' ? 'Data' : datum.label == 'S' ? 'SVM Predicción' : 'tuned SVM Predicción'"}}}},
{"width":338,"height":330,"title":"Predicción SVM “DTF”","transform":[{"filter":"datum.p == 6"}],"mark":{"type":"line","strokeWidth":2.3,"clip":true},
"encoding":{"x":{"field":"i","type":"quantitative","scale":{"domain":[-80,2000],"nice":false,"zero":false},"axis":{"values":[0,500,1000,1500],"format":"d","labelFont":"Liberation Serif","labelFontSize":16.5,"labelColor":"#000000","title":"Index"}},
"y":{"field":"v","type":"quantitative","scale":{"domain":[3.69,7.61],"nice":false,"zero":false},"axis":{"values":[4,5,6,7],"format":"d","labelFont":"Liberation Serif","labelFontSize":16.5,"labelColor":"#000000","title":"DTF$Y6"}},
"color":{"field":"s","type":"nominal","scale":{"domain":["D","S","T"],"range":["#000000","#C8102E","#1F3F8F"]},"legend":{"orient":"none","legendX":-66,"legendY":399,"labelExpr":"datum.label == 'D' ? 'Data' : datum.label == 'S' ? 'SVM Predicción' : 'tuned SVM Predicción'"}}}}
],
"config":{
"font":"Liberation Serif",
"view":{"stroke":"#000000","strokeWidth":1.3},
"style":{"guide-label":{"font":"Liberation Serif","fontSize":16.5,"fill":"#000000"},"guide-title":{"font":"Liberation Serif","fontSize":16.5,"fontWeight":"normal","fill":"#000000"}},
"title":{"font":"Liberation Serif","fontSize":16.5,"fontWeight":"normal","color":"#000000","offset":10,"dx":-35},
"axis":{"titleFont":"Liberation Serif","titleFontSize":16.5,"titleFontWeight":"normal","titleColor":"#000000","domain":false,"tickColor":"#333333","tickWidth":1.2,"labelFlush":false,"labelOverlap":false},
"axisX":{"grid":false,"tickSize":12,"labelPadding":6,"titleY":47,"titleBaseline":"middle"},
"axisY":{"grid":true,"gridColor":"#3a3a3a","gridWidth":1.2,"gridOpacity":1,"tickSize":13,"labelPadding":6,"titleX":-69,"titleY":165,"titleAngle":-90,"titleAlign":"center","titleBaseline":"middle"},
"legend":{"title":null,"direction":"horizontal","symbolType":"stroke","symbolSize":729,"symbolStrokeWidth":2.5,"labelFont":"Liberation Serif","labelFontSize":14.3,"labelColor":"#000000","labelOffset":11,"columnPadding":18,"padding":0}
}
}
